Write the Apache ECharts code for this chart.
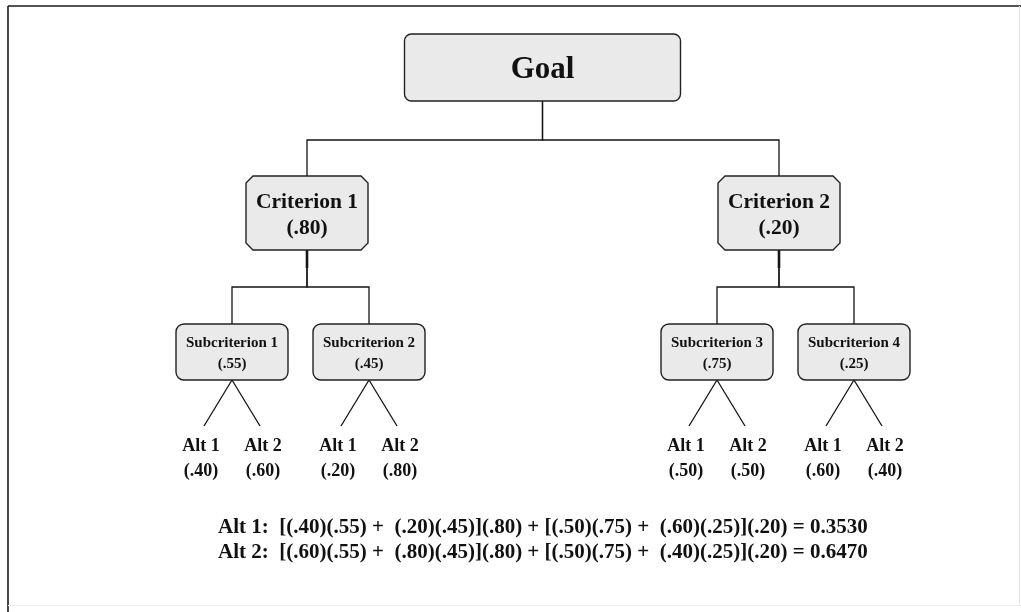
<!DOCTYPE html>
<html><head><meta charset="utf-8">
<script src="https://cdn.jsdelivr.net/npm/echarts@6/dist/echarts.min.js"></script>
<style>html,body{margin:0;padding:0;background:#fff;}#main{width:1021px;height:612px;}</style>
</head><body><div id="main"></div>
<script>
// ---------- data ----------
const goalLabel = 'Goal';
const criteriaNames = ['Criterion 1', 'Criterion 2'];
const criteriaWeights = [0.80, 0.20];
const subNames = ['Subcriterion 1', 'Subcriterion 2', 'Subcriterion 3', 'Subcriterion 4'];
const subWeights = [0.55, 0.45, 0.75, 0.25];
const subParent = [0, 0, 1, 1];
const altNames = ['Alt 1', 'Alt 2'];
const altWeights = [[0.40, 0.60], [0.20, 0.80], [0.50, 0.50], [0.60, 0.40]];

// ---------- layout (diagram geometry, data units = px) ----------
const L = {
  rootX: 543, critSpread: 472, subSpread: 137, subShift: 6.5, leafSpread: 56, labelSpread: 62,
  goalY: [34, 101], goalW: 276,
  critY: [176, 250], critW: 122,
  subY: [324, 380], subW: 112,
  bus1: 140, bus2: 287, stubEnd: 268, leafY: 426, altY1: 446, altY2: 471,
  formulaX: 218, formulaY: [528, 553]
};
const FONT = '"Liberation Serif", "Times New Roman", serif';
const fmt = v => '(' + v.toFixed(2).replace(/^0/, '') + ')';

const critX = criteriaNames.map((_, i) => L.rootX + (i - (criteriaNames.length - 1) / 2) * L.critSpread);
const subX = subNames.map((_, j) => {
  const c = subParent[j];
  const sibs = subParent.map((p, k) => p === c ? k : -1).filter(k => k >= 0);
  const k = sibs.indexOf(j);
  const side = Math.sign(critX[c] - L.rootX);
  return critX[c] + (k - (sibs.length - 1) / 2) * L.subSpread + side * L.subShift;
});

const items = [];
// connectors
critX.forEach(cx => {
  items.push({kind: 'line', points: [[L.rootX - 0.5, L.goalY[1]], [L.rootX - 0.5, L.bus1], [cx, L.bus1], [cx, L.critY[0]]]});
});
subX.forEach((sx, j) => {
  const cx = critX[subParent[j]];
  items.push({kind: 'line', points: [[cx, L.critY[1]], [cx, L.bus2], [sx, L.bus2], [sx, L.subY[0]]]});
});
critX.forEach(cx => items.push({kind: 'line', w: 2.6, points: [[cx, L.critY[1]], [cx, L.stubEnd]]}));
subX.forEach((sx, j) => {
  altNames.forEach((_, a) => {
    const lx = sx + (a - (altNames.length - 1) / 2) * L.leafSpread;
    items.push({kind: 'line', points: [[sx, L.subY[1]], [lx, L.leafY]]});
  });
});
// boxes
items.push({kind: 'box', corner: 'round', r: 7, x: L.rootX - 0.5, y0: L.goalY[0], y1: L.goalY[1], w: L.goalW,
  texts: [{t: goalLabel, y: (L.goalY[0] + L.goalY[1]) / 2 + 2, font: 'bold 31px ' + FONT}]});
critX.forEach((cx, i) => items.push({kind: 'box', corner: 'chamfer', r: 7, x: cx, y0: L.critY[0], y1: L.critY[1], w: L.critW,
  texts: [{t: criteriaNames[i], y: 202, font: 'bold 21.5px ' + FONT}, {t: fmt(criteriaWeights[i]), y: 228, font: 'bold 21.5px ' + FONT}]}));
subX.forEach((sx, j) => items.push({kind: 'box', corner: 'round', r: 8, x: sx, y0: L.subY[0], y1: L.subY[1], w: L.subW,
  texts: [{t: subNames[j], y: 343, font: 'bold 15px ' + FONT}, {t: fmt(subWeights[j]), y: 364, font: 'bold 15px ' + FONT}]}));
// alternative labels
subX.forEach((sx, j) => {
  altNames.forEach((nm, a) => {
    const lx = sx + (a - (altNames.length - 1) / 2) * L.labelSpread;
    items.push({kind: 'text', x: lx, y: L.altY1, t: nm, font: 'bold 18px ' + FONT});
    items.push({kind: 'text', x: lx, y: L.altY2, t: fmt(altWeights[j][a]), font: 'bold 18px ' + FONT});
  });
});
// formulas
altNames.forEach((nm, a) => {
  let total = 0;
  const parts = criteriaNames.map((_, c) => {
    const subs = subParent.map((p, k) => p === c ? k : -1).filter(k => k >= 0);
    let s = 0;
    const terms = subs.map(k => { s += altWeights[k][a] * subWeights[k]; return fmt(altWeights[k][a]) + fmt(subWeights[k]); });
    total += s * criteriaWeights[c];
    return '[' + terms.join(' +  ') + ']' + fmt(criteriaWeights[c]);
  });
  const str = nm + ':  ' + parts.join(' + ') + ' = ' + total.toFixed(4);
  items.push({kind: 'text', x: L.formulaX, y: L.formulaY[a], t: str, font: 'bold 21px ' + FONT, align: 'left'});
});

function renderItem(params, api) {
  const it = items[params.dataIndex];
  if (it.kind === 'line') {
    return {type: 'polyline', shape: {points: it.points.map(p => api.coord(p))},
      style: {stroke: '#141414', lineWidth: it.w || 1.3, fill: null}};
  }
  if (it.kind === 'text') {
    const p = api.coord([it.x, it.y]);
    return {type: 'text', style: {text: it.t, x: p[0], y: p[1], font: it.font, fill: '#111',
      align: it.align || 'center', verticalAlign: 'middle'}};
  }
  const tl = api.coord([it.x - it.w / 2, it.y0]);
  const br = api.coord([it.x + it.w / 2, it.y1]);
  const w = br[0] - tl[0], h = br[1] - tl[1];
  const style = {fill: '#eaeaea', stroke: '#222', lineWidth: 1.4};
  let shape;
  if (it.corner === 'chamfer') {
    const c = it.r, x0 = tl[0], y0 = tl[1], x1 = br[0], y1 = br[1];
    shape = {type: 'polygon', shape: {points: [[x0 + c, y0], [x1 - c, y0], [x1, y0 + c], [x1, y1 - c], [x1 - c, y1], [x0 + c, y1], [x0, y1 - c], [x0, y0 + c]]}, style};
  } else {
    shape = {type: 'rect', shape: {x: tl[0], y: tl[1], width: w, height: h, r: it.r}, style};
  }
  const children = [shape];
  it.texts.forEach(tx => {
    const p = api.coord([it.x, tx.y]);
    children.push({type: 'text', style: {text: tx.t, x: p[0], y: p[1], font: tx.font, fill: '#111', align: 'center', verticalAlign: 'middle'}});
  });
  return {type: 'group', children};
}

const chart = echarts.init(document.getElementById('main'), null, {renderer: 'canvas'});
chart.setOption({
  backgroundColor: '#ffffff',
  animation: false,
  grid: {left: 0, right: 0, top: 0, bottom: 0},
  xAxis: {type: 'value', min: 0, max: 1021, show: false},
  yAxis: {type: 'value', min: 0, max: 612, inverse: true, show: false},
  graphic: [
    {type: 'line', shape: {x1: 8, y1: 6, x2: 8, y2: 612}, style: {stroke: '#1a1a1a', lineWidth: 1.6}},
    {type: 'line', shape: {x1: 8, y1: 6, x2: 1021, y2: 6}, style: {stroke: '#1a1a1a', lineWidth: 1.6}},
    {type: 'line', shape: {x1: 1019.5, y1: 6, x2: 1019.5, y2: 606}, style: {stroke: '#e4e4e4', lineWidth: 1}},
    {type: 'line', shape: {x1: 8, y1: 605.5, x2: 1021, y2: 605.5}, style: {stroke: '#eeeeee', lineWidth: 1}}
  ],
  series: [{
    type: 'custom',
    coordinateSystem: 'cartesian2d',
    renderItem,
    clip: false,
    silent: true,
    data: items.map((it, i) => [it.x != null ? it.x : 0, it.y != null ? it.y : (it.y0 || 0), i])
  }]
});
</script></body></html>
